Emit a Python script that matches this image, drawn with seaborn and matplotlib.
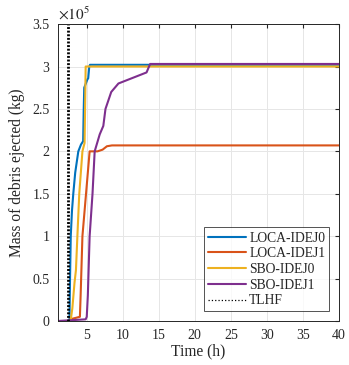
import numpy as np
import pandas as pd
import matplotlib
matplotlib.use("Agg")
import matplotlib.pyplot as plt
import seaborn as sns

# data (time in h, mass in 1e5 kg)
loca0_t = [1.0, 2.6, 2.68, 2.78, 2.95, 3.13, 3.4, 3.83, 4.2, 4.5, 4.58, 4.65, 5.1, 5.2, 5.35, 5.45, 40.0]
loca0_m = [0.0, 0.0, 0.5, 1.0, 1.3, 1.5, 1.75, 2.0, 2.08, 2.12, 2.5, 2.75, 2.85, 2.86, 3.0, 3.02, 3.02]

loca1_t = [2.7, 4.05, 4.15, 4.4, 4.9, 5.4, 6.5, 7.2, 7.8, 8.5, 40.0]
loca1_m = [0.02, 0.05, 0.3, 1.0, 1.5, 2.0, 2.0, 2.02, 2.06, 2.07, 2.07]

sbo0_t = [2.76, 3.0, 3.3, 3.5, 3.7, 3.96, 4.4, 4.7, 4.85, 40.0]
sbo0_m = [0.0, 0.15, 0.45, 0.6, 1.0, 1.5, 2.0, 2.1, 3.0, 3.0]

sbo1_t = [1.0, 4.85, 5.0, 5.15, 5.4, 5.8, 6.1, 6.8, 7.3, 7.6, 8.4, 9.4, 13.3, 13.8, 40.0]
sbo1_m = [0.0, 0.02, 0.05, 0.3, 1.0, 1.5, 2.0, 2.2, 2.3, 2.5, 2.7, 2.8, 2.93, 3.03, 3.03]

tlhf_t = 2.38

names = ["LOCA-IDEJ0", "LOCA-IDEJ1", "SBO-IDEJ0", "SBO-IDEJ1"]
colors = ["#0072BD", "#D95319", "#EDB120", "#7E2F8E"]

frames = []
for name, t, m in zip(names, [loca0_t, loca1_t, sbo0_t, sbo1_t],
                      [loca0_m, loca1_m, sbo0_m, sbo1_m]):
    frames.append(pd.DataFrame({"time": t, "mass": m, "case": name}))
df = pd.concat(frames, ignore_index=True)

sns.set_style("whitegrid")
plt.rcParams["font.family"] = ["Liberation Serif", "DejaVu Serif"]
plt.rcParams["mathtext.fontset"] = "stix"

fig = plt.figure(figsize=(3.49, 3.65), dpi=100)
ax = fig.add_axes([0.166, 0.1205, 0.805, 0.8135])

sns.lineplot(data=df, x="time", y="mass", hue="case", palette=colors,
             hue_order=names, sort=False, estimator=None, linewidth=1.5, ax=ax)
ax.axvline(tlhf_t, color="black", linestyle=(0, (0.7, 0.6)), linewidth=2.0, label="TLHF")

ax.set_xlim(1, 40)
ax.set_ylim(0, 3.5)
ax.set_xticks(np.arange(5, 41, 5))
ax.set_yticks(np.arange(0, 3.51, 0.5))
ax.set_yticklabels(["0", "0.5", "1", "1.5", "2", "2.5", "3", "3.5"])
ax.tick_params(direction="in", length=3, labelsize=10, colors="#262626",
               top=True, right=True, pad=6)
ax.grid(color="#e6e6e6", linewidth=0.7)
for s in ax.spines.values():
    s.set_color("#262626")
    s.set_linewidth(0.7)

ax.set_xlabel("Time (h)", fontsize=11.2, labelpad=1)
ax.set_ylabel("Mass of debris ejected (kg)", fontsize=11.2, labelpad=5)
ax.text(0.0, 1.005, r"$\times10^5$", transform=ax.transAxes, fontsize=11,
        ha="left", va="bottom", color="#262626")

handles, labels = ax.get_legend_handles_labels()
handles[-1] = plt.Line2D([], [], color="black", linestyle=":", linewidth=0.9)
leg = ax.legend(handles, labels, loc="lower right", fontsize=9.8,
                frameon=True, fancybox=False, edgecolor="#262626",
                handlelength=2.8, handletextpad=0.25, borderpad=0.3,
                labelspacing=0.2, borderaxespad=0.7)
leg.get_frame().set_linewidth(0.7)
for line in leg.get_lines()[:4]:
    line.set_linewidth(1.5)

fig.savefig("out.png", dpi=100)
